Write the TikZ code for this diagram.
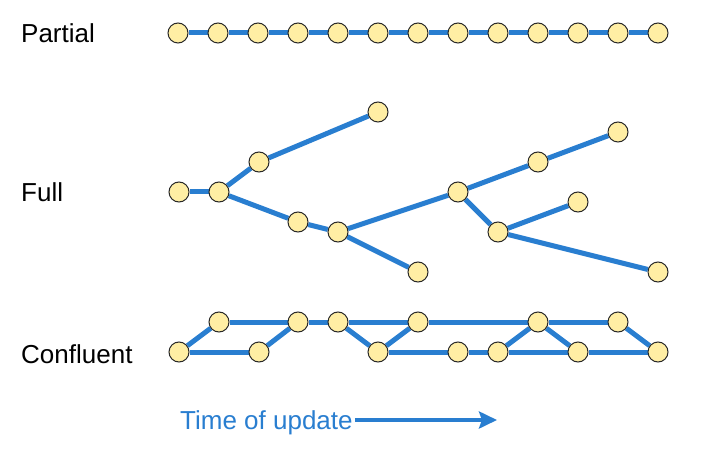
\documentclass[tikz,border=0pt]{standalone}
\usepackage{fontspec}
\setmainfont{Liberation Sans}
\usetikzlibrary{backgrounds,arrows.meta}
\definecolor{lineblue}{RGB}{41,126,208}
\definecolor{nodefill}{RGB}{255,238,164}
\definecolor{nodeedge}{RGB}{40,40,40}
\tikzset{
  vert/.style={circle,draw=nodeedge,line width=1pt,fill=nodefill,minimum size=20pt,inner sep=0pt},
  link/.style={draw=lineblue,line width=5pt},
  rowlabel/.style={anchor=base west,inner sep=0pt,font=\fontsize{26}{30}\selectfont,text=black},
  timelabel/.style={anchor=base west,inner sep=0pt,font=\fontsize{26}{30}\selectfont,text=lineblue},
  timearrow/.style={draw=lineblue,line width=4pt,-{Stealth[length=18pt,width=17pt,inset=3pt]}}
}
\begin{document}
\begin{tikzpicture}[x=1pt,y=-1pt]
\useasboundingbox (0,0) rectangle (711,470);
% labels
\node[rowlabel] (lp) at (21,43) {Partial};
\node[rowlabel] (lf) at (21,202) {Full};
\node[rowlabel] (lc) at (21,363) {Confluent};
% Partial
\foreach \i in {0,...,12} {
  \node[vert] (p\i) at ({178+40*\i},33) {};
}
\begin{scope}[on background layer]
\foreach \i [evaluate=\i as \j using int(\i+1)] in {0,...,11} {
  \draw[link] (p\i) -- (p\j);
}
\end{scope}
% Full
\node[vert] (f1) at (179,192) {};
\node[vert] (f2) at (219,192) {};
\node[vert] (f3) at (259,162) {};
\node[vert] (f4) at (378,112) {};
\node[vert] (f5) at (298,222) {};
\node[vert] (f6) at (338,232) {};
\node[vert] (f7) at (418,272) {};
\node[vert] (f8) at (458,192) {};
\node[vert] (f9) at (538,162) {};
\node[vert] (f10) at (618,132) {};
\node[vert] (f11) at (498,232) {};
\node[vert] (f12) at (578,202) {};
\node[vert] (f13) at (658,272) {};
\begin{scope}[on background layer]
\draw[link] (f1) -- (f2);
\draw[link] (f2) -- (f3);
\draw[link] (f3) -- (f4);
\draw[link] (f2) -- (f5);
\draw[link] (f5) -- (f6);
\draw[link] (f6) -- (f7);
\draw[link] (f6) -- (f8);
\draw[link] (f8) -- (f9);
\draw[link] (f9) -- (f10);
\draw[link] (f8) -- (f11);
\draw[link] (f11) -- (f12);
\draw[link] (f11) -- (f13);
\end{scope}
% Confluent
\node[vert] (t1) at (219,322) {};
\node[vert] (t2) at (298,322) {};
\node[vert] (t3) at (338,322) {};
\node[vert] (t4) at (418,322) {};
\node[vert] (t5) at (538,322) {};
\node[vert] (t6) at (618,322) {};
\node[vert] (b1) at (179,352) {};
\node[vert] (b2) at (259,352) {};
\node[vert] (b3) at (378,352) {};
\node[vert] (b4) at (458,352) {};
\node[vert] (b5) at (498,352) {};
\node[vert] (b6) at (578,352) {};
\node[vert] (b7) at (658,352) {};
\begin{scope}[on background layer]
\draw[link] (b1) -- (t1);
\draw[link] (t1) -- (t2);
\draw[link] (b1) -- (b2);
\draw[link] (b2) -- (t2);
\draw[link] (t2) -- (t3);
\draw[link] (t3) -- (t4);
\draw[link] (t4) -- (t5);
\draw[link] (t5) -- (t6);
\draw[link] (t3) -- (b3);
\draw[link] (b3) -- (t4);
\draw[link] (b3) -- (b4);
\draw[link] (b4) -- (b5);
\draw[link] (b5) -- (t5);
\draw[link] (t5) -- (b6);
\draw[link] (b5) -- (b6);
\draw[link] (b6) -- (b7);
\draw[link] (t6) -- (b7);
\end{scope}
% time arrow
\node[timelabel] (tou) at (180,429) {Time of update};
\coordinate (arrowend) at (497,420);
\draw[timearrow] ([xshift=2pt]tou.east |- arrowend) -- (arrowend);
\end{tikzpicture}
\end{document}
